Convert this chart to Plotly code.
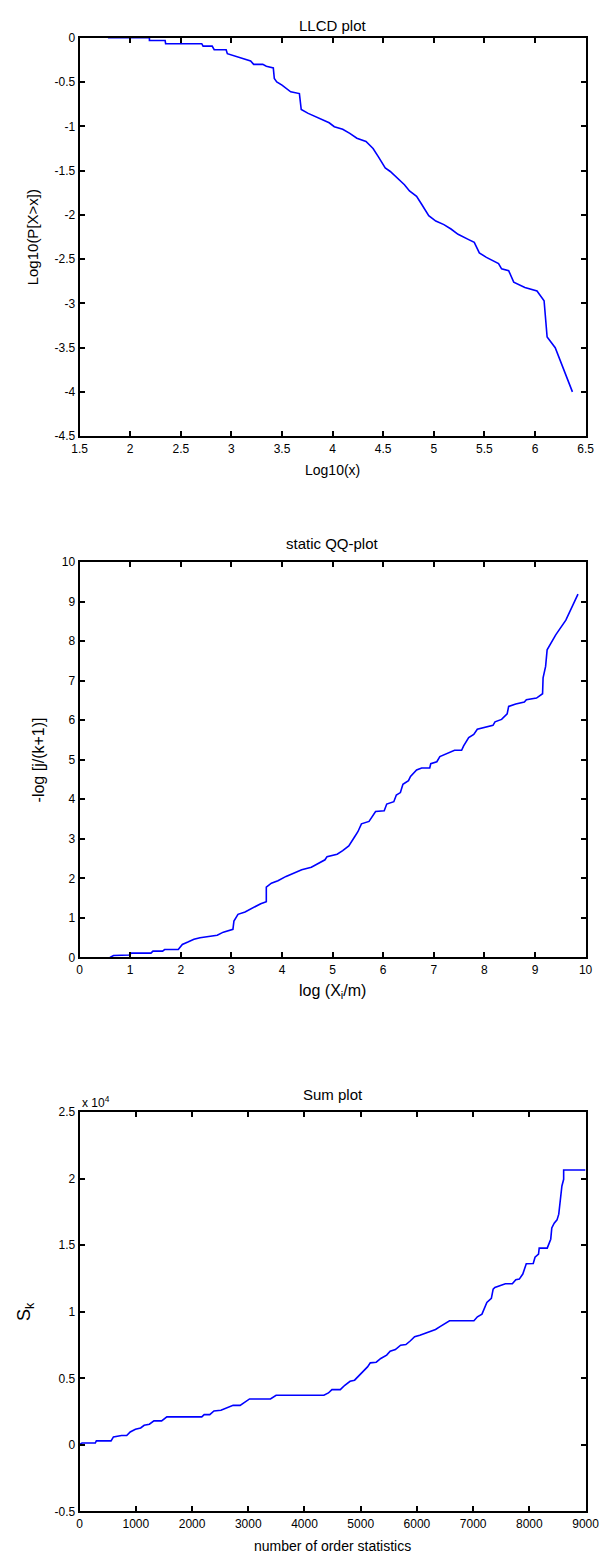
import plotly.graph_objects as go

W, H = 607, 1559

# ---------------- data ----------------
llcd_x = [1.78, 2.19, 2.19, 2.345, 2.35, 2.707, 2.72, 2.81, 2.83, 2.948, 2.96, 3.017, 3.10, 3.19,
          3.22, 3.31, 3.345, 3.414, 3.424, 3.448, 3.5, 3.545, 3.586, 3.672, 3.69, 3.759, 3.862,
          3.966, 4.017, 4.10, 4.17, 4.24, 4.33, 4.40, 4.45, 4.52, 4.57, 4.64, 4.71, 4.76, 4.83,
          4.88, 4.95, 5.02, 5.10, 5.17, 5.24, 5.345, 5.40, 5.45, 5.52, 5.64, 5.67, 5.74, 5.79,
          5.90, 6.02, 6.09, 6.11, 6.12, 6.20, 6.37]
llcd_y = [0, 0, -0.03, -0.03, -0.067, -0.067, -0.094, -0.094, -0.135, -0.135, -0.18, -0.2, -0.236,
          -0.262, -0.30, -0.30, -0.322, -0.34, -0.46, -0.498, -0.535, -0.573, -0.61, -0.63, -0.81,
          -0.854, -0.91, -0.96, -1.004, -1.034, -1.08, -1.135, -1.17, -1.25, -1.34, -1.47, -1.51,
          -1.58, -1.66, -1.73, -1.79, -1.88, -2.01, -2.07, -2.11, -2.16, -2.22, -2.28, -2.31,
          -2.43, -2.48, -2.55, -2.61, -2.63, -2.76, -2.82, -2.86, -2.97, -3.21, -3.38, -3.5, -4.0]

qq_x = [0.60, 0.67, 0.98, 1.02, 1.41, 1.45, 1.64, 1.68, 1.95, 2.03, 2.14, 2.26, 2.38, 2.53, 2.65,
        2.72, 2.84, 2.96, 3.03, 3.05, 3.13, 3.27, 3.42, 3.58, 3.69, 3.69, 3.79, 3.92, 4.08, 4.22,
        4.39, 4.58, 4.70, 4.85, 4.89, 5.09, 5.20, 5.32, 5.43, 5.50, 5.57, 5.72, 5.85, 6.02, 6.07,
        6.21, 6.26, 6.34, 6.39, 6.5, 6.54, 6.66, 6.76, 6.92, 6.94, 7.06, 7.12, 7.24, 7.41, 7.55,
        7.59, 7.69, 7.79, 7.86, 7.97, 8.17, 8.21, 8.34, 8.45, 8.48, 8.62, 8.79, 8.83, 9.03, 9.15,
        9.16, 9.21, 9.24, 9.41, 9.61, 9.85]
qq_y = [0, 0.05, 0.06, 0.11, 0.11, 0.16, 0.16, 0.2, 0.2, 0.33, 0.39, 0.46, 0.50, 0.53, 0.56,
        0.56, 0.64, 0.69, 0.71, 0.92, 1.09, 1.15, 1.26, 1.36, 1.41, 1.78, 1.88, 1.94, 2.05, 2.13,
        2.22, 2.28, 2.36, 2.47, 2.55, 2.61, 2.70, 2.82, 3.04, 3.18, 3.38, 3.44, 3.69, 3.71, 3.88,
        3.94, 4.11, 4.17, 4.38, 4.47, 4.58, 4.74, 4.79, 4.79, 4.90, 4.95, 5.08, 5.14, 5.24, 5.24,
        5.35, 5.56, 5.64, 5.77, 5.81, 5.87, 5.96, 6.02, 6.16, 6.35, 6.41, 6.46, 6.52, 6.56, 6.67,
        7.07, 7.36, 7.78, 8.16, 8.53, 9.19]

sum_x = [0, 43, 279, 298, 559, 602, 745, 838, 900, 993, 1086, 1148, 1241, 1322, 1459, 1552, 2173,
         2216, 2315, 2390, 2514, 2607, 2731, 2855, 2948, 3023, 3395, 3495, 4345, 4426, 4488, 4637,
         4717, 4811, 4891, 4966, 5047, 5121, 5171, 5276, 5357, 5462, 5524, 5617, 5710, 5804, 5885,
         5959, 6052, 6145, 6238, 6331, 6425, 6487, 6580, 7014, 7076, 7157, 7200, 7244, 7324, 7356,
         7387, 7480, 7573, 7697, 7759, 7821, 7883, 7945, 8069, 8101, 8163, 8175, 8318, 8380, 8399,
         8442, 8492, 8523, 8548, 8579, 8610, 8610, 9000]
sum_y = [40, 140, 140, 300, 300, 600, 700, 700, 970, 1170, 1270, 1470, 1550, 1800, 1800, 2100, 2100,
         2270, 2270, 2550, 2600, 2770, 2970, 2970, 3200, 3450, 3450, 3730, 3730, 3900, 4150, 4150,
         4480, 4780, 4860, 5160, 5560, 5860, 6160, 6210, 6490, 6740, 7040, 7160, 7490, 7540, 7820,
         8120, 8240, 8370, 8490, 8670, 8920, 9070, 9320, 9320, 9620, 9820, 10300, 10700, 11000,
         11700, 11830, 11950, 12100, 12100, 12400, 12450, 12830, 13600, 13630, 14100, 14330, 14780,
         14780, 15450, 16300, 16650, 16900, 17330, 18150, 19450, 19950, 20650, 20650]

llcd_xticks = [1.5, 2, 2.5, 3, 3.5, 4, 4.5, 5, 5.5, 6, 6.5]
llcd_yticks = [0, -0.5, -1, -1.5, -2, -2.5, -3, -3.5, -4, -4.5]
qq_ticks = [0, 1, 2, 3, 4, 5, 6, 7, 8, 9, 10]
sum_xticks = [0, 1000, 2000, 3000, 4000, 5000, 6000, 7000, 8000, 9000]
sum_yticks = [-5000, 0, 5000, 10000, 15000, 20000, 25000]
sum_yticktext = ["-0.5", "0", "0.5", "1", "1.5", "2", "2.5"]

# ---------------- layout helpers ----------------
FONT = "Liberation Sans, Arial, sans-serif"
def px(x):
    return x / W
def py(y):
    return 1 - y / H

XL, XR = 66, 591
boxes = [(23, 425), (552, 951), (1107, 1510)]

def fmt(v):
    return "%g" % v

axis_common = dict(showline=True, linecolor="black", linewidth=2, mirror="allticks",
                   ticks="inside", ticklen=5, tickwidth=2, tickcolor="black",
                   showgrid=False, zeroline=False,
                   tickfont=dict(family=FONT, size=12, color="black"))

fig = go.Figure()
line = dict(color="#0000ff", width=1.6)
fig.add_trace(go.Scatter(x=llcd_x, y=llcd_y, mode="lines", line=line, xaxis="x", yaxis="y"))
fig.add_trace(go.Scatter(x=qq_x, y=qq_y, mode="lines", line=line, xaxis="x2", yaxis="y2"))
fig.add_trace(go.Scatter(x=sum_x, y=sum_y, mode="lines", line=line, xaxis="x3", yaxis="y3"))

dom_x = [px(XL), px(XR)]
def dom_y(b):
    return [py(b[1]), py(b[0])]

fig.update_layout(
    width=W, height=H, margin=dict(l=0, r=0, t=0, b=0),
    paper_bgcolor="white", plot_bgcolor="white", showlegend=False,
    xaxis=dict(domain=dom_x, anchor="y", range=[1.5, 6.5], tickvals=llcd_xticks,
               ticktext=[fmt(v) for v in llcd_xticks], **axis_common),
    yaxis=dict(domain=dom_y(boxes[0]), anchor="x", range=[-4.5, 0], tickvals=llcd_yticks,
               ticktext=[fmt(v) for v in llcd_yticks], **axis_common),
    xaxis2=dict(domain=dom_x, anchor="y2", range=[0, 10], tickvals=qq_ticks,
                ticktext=[fmt(v) for v in qq_ticks], **axis_common),
    yaxis2=dict(domain=dom_y(boxes[1]), anchor="x2", range=[0, 10], tickvals=qq_ticks,
                ticktext=[fmt(v) for v in qq_ticks], **axis_common),
    xaxis3=dict(domain=dom_x, anchor="y3", range=[0, 9000], tickvals=sum_xticks,
                ticktext=[fmt(v) for v in sum_xticks], **axis_common),
    yaxis3=dict(domain=dom_y(boxes[2]), anchor="x3", range=[-5000, 25000], tickvals=sum_yticks,
                ticktext=sum_yticktext, **axis_common),
)

cx = (XL + XR) / 2
def ann(text, x, y, size=14, angle=0, xanchor="center", yanchor="middle"):
    fig.add_annotation(text=text, x=px(x), y=py(y), xref="paper", yref="paper",
                       showarrow=False, textangle=angle, xanchor=xanchor, yanchor=yanchor,
                       font=dict(family=FONT, size=size, color="black"))

ann("LLCD plot", cx, 0, size=15, yanchor="top")
ann("Log10(x)", cx, 459, size=14)
ann("Log10(P[X&gt;x])", 18, 224, size=15, angle=-90)

ann("static QQ-plot", cx, 533, size=15)
ann("log (X<sub>i</sub>/m)", cx, 985, size=16)
ann("-log [j/(k+1)]", 23, 752, size=16, angle=-90)

ann("Sum plot", cx, 1089, size=15)
ann("number of order statistics", cx, 1545, size=14)
ann("S<sub>k</sub>", 10, 1308, size=18, angle=-90)
ann("x 10<sup>4</sup>", XL, 1097, size=12, xanchor="left")

fig.write_html("out.html")
